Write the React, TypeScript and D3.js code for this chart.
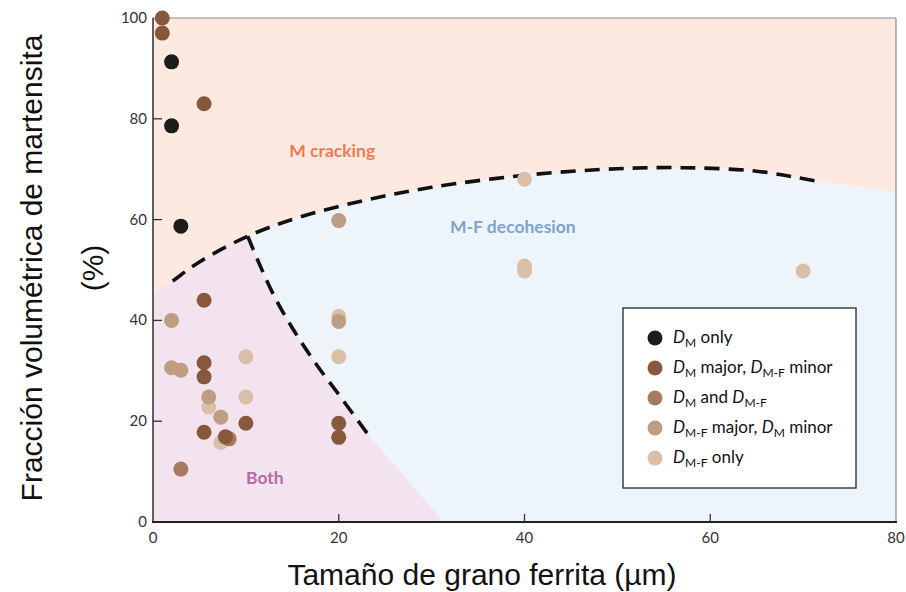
import React from "react";
import * as d3 from "d3";

// ---------- data ----------
const categories = [
  "DM only",
  "DM major, DM-F minor",
  "DM and DM-F",
  "DM-F major, DM minor",
  "DM-F only",
];
const categoryColors = ["#1c1c1c", "#87583b", "#a67b5d", "#bf9d82", "#dabfa8"];

const grainSize = [1, 1, 2, 2, 5.5, 3, 5.5, 2, 2, 3, 5.5, 5.5, 10, 6, 6, 10, 7.3, 7.3, 8.2, 7.8, 10, 5.5, 3, 20, 20, 20, 20, 20, 20, 40, 40, 40, 70];
const martensite = [100, 97, 91.3, 78.6, 83, 58.7, 44, 40, 30.6, 30.1, 31.6, 28.8, 32.8, 22.8, 24.8, 24.8, 20.8, 15.8, 16.5, 16.9, 19.6, 17.8, 10.5, 59.8, 40.8, 39.8, 32.8, 19.6, 16.8, 68, 50.8, 49.8, 49.8];
const pointCategory = [1, 1, 0, 0, 1, 0, 1, 3, 3, 3, 1, 1, 4, 4, 3, 4, 3, 4, 2, 1, 1, 1, 2, 3, 4, 3, 4, 1, 1, 4, 4, 4, 4];

// upper boundary (M cracking / others)
const upperX = [0, 1.8, 5, 10.2, 15.8, 23, 30, 40, 50, 57, 65, 72, 80];
const upperY = [45.2, 47.4, 51.6, 56.7, 60.5, 63.9, 66.4, 68.8, 70.1, 70.3, 69.6, 67.5, 65.5];
const upperDashFrom = 1.8;
const upperDashTo = 72;

// divider (Both / M-F decohesion)
const dividerX = [10.2, 11.5, 13, 15, 17.5, 20.2, 23.1];
const dividerY = [56.7, 51, 45, 38.5, 31.5, 24.8, 17.5];
const dividerFoot = [31.3, 0];

const xTicks = [0, 20, 40, 60, 80];
const yTicks = [0, 20, 40, 60, 80, 100];

const regionLabels = ["M cracking", "M-F decohesion", "Both"];
const regionLabelPos = [[19.3, 72.4], [38.75, 57.3], [12.05, 7.5]];
const regionLabelColors = ["#f07a55", "#7fa3cd", "#b86aa8"];

// ---------- layout ----------
const W = 906;
const H = 592;
const L = 153, R = 896, T = 18, B = 522;

export default function App() {
  const x = d3.scaleLinear().domain([0, 80]).range([L, R]);
  const y = d3.scaleLinear().domain([0, 100]).range([B, T]);

  const upperPts: [number, number][] = upperX.map((v, i) => [x(v), y(upperY[i])]);
  const upperLine = d3.line().curve(d3.curveCatmullRom.alpha(0.5))(upperPts) as string;
  const belowUpper = `M${x(0)},${y(0)}L` + upperLine.slice(1) + `L${x(80)},${y(0)}Z`;

  const divPts: [number, number][] = dividerX.map((v, i) => [x(v), y(dividerY[i])]);
  const divLine = d3.line().curve(d3.curveCatmullRom.alpha(0.5))(divPts) as string;
  const pinkPoly =
    `M${x(0)},${y(0)}L${x(0)},${y(100)}L${x(dividerX[0])},${y(100)}L` +
    divLine.slice(1) +
    `L${x(dividerFoot[0])},${y(dividerFoot[1])}Z`;

  const font = "Lato, 'Open Sans', sans-serif";
  const titleFont = "'Liberation Sans', Arial, sans-serif";

  const S = 12; // subscript size
  const legendLabel = (i: number) => {
    switch (i) {
      case 0:
        return [<tspan key="a" fontStyle="italic">D</tspan>, <tspan key="b" fontSize={S} dy={4}>M</tspan>, <tspan key="c" dy={-4}> only</tspan>];
      case 1:
        return [<tspan key="a" fontStyle="italic">D</tspan>, <tspan key="b" fontSize={S} dy={4}>M</tspan>, <tspan key="c" dy={-4}> major, </tspan>, <tspan key="d" fontStyle="italic">D</tspan>, <tspan key="e" fontSize={S} dy={4}>M-F</tspan>, <tspan key="f" dy={-4}> minor</tspan>];
      case 2:
        return [<tspan key="a" fontStyle="italic">D</tspan>, <tspan key="b" fontSize={S} dy={4}>M</tspan>, <tspan key="c" dy={-4}> and </tspan>, <tspan key="d" fontStyle="italic">D</tspan>, <tspan key="e" fontSize={S} dy={4}>M-F</tspan>];
      case 3:
        return [<tspan key="a" fontStyle="italic">D</tspan>, <tspan key="b" fontSize={S} dy={4}>M-F</tspan>, <tspan key="c" dy={-4}> major, </tspan>, <tspan key="d" fontStyle="italic">D</tspan>, <tspan key="e" fontSize={S} dy={4}>M</tspan>, <tspan key="f" dy={-4}> minor</tspan>];
      default:
        return [<tspan key="a" fontStyle="italic">D</tspan>, <tspan key="b" fontSize={S} dy={4}>M-F</tspan>, <tspan key="c" dy={-4}> only</tspan>];
    }
  };

  return (
    <div style={{ position: "absolute", left: 0, top: 0 }}>
      <svg width={W} height={H} style={{ display: "block", background: "#fff" }}>
        <defs>
          <clipPath id="belowUpper">
            <path d={belowUpper} />
          </clipPath>
          <clipPath id="upperDash">
            <rect x={x(upperDashFrom)} y={0} width={x(upperDashTo) - x(upperDashFrom)} height={H} />
          </clipPath>
        </defs>

        {/* regions */}
        <rect x={L} y={T} width={R - L} height={B - T} fill="#fde9e0" />
        <path d={belowUpper} fill="#edf5fa" />
        <path d={pinkPoly} fill="#f3e3ee" clipPath="url(#belowUpper)" />

        {/* boundaries */}
        <g clipPath="url(#upperDash)">
          <path d={upperLine} fill="none" stroke="#111" strokeWidth={3.6} strokeDasharray="15 9" />
        </g>
        <path d={divLine} fill="none" stroke="#111" strokeWidth={3.6} strokeDasharray="15 9" />

        {/* region labels */}
        {regionLabels.map((t, i) => (
          <text key={t} x={x(regionLabelPos[i][0])} y={y(regionLabelPos[i][1])} textAnchor="middle"
            fontFamily={font} fontWeight={700} fontSize={17.5} fill={regionLabelColors[i]}>{t}</text>
        ))}

        {/* frame */}
        <line x1={L} x2={R} y1={T} y2={T} stroke="#8a8a8a" strokeWidth={1.2} />
        <line x1={R} x2={R} y1={T} y2={B} stroke="#8a8a8a" strokeWidth={1.2} />

        {/* points */}
        {grainSize.map((g, i) => (
          <circle key={i} cx={x(g)} cy={y(martensite[i])} r={7.5} fill={categoryColors[pointCategory[i]]} />
        ))}

        {/* axes */}
        <line x1={L} x2={L} y1={T} y2={B} stroke="#3a3a3a" strokeWidth={1.6} />
        <line x1={L - 1} x2={R + 1} y1={B} y2={B} stroke="#222" strokeWidth={2.2} />
        {xTicks.map((t) => (
          <g key={"x" + t}>
            {t > 0 && t < 80 && <line x1={x(t)} x2={x(t)} y1={B} y2={B - 8} stroke="#333" strokeWidth={1.3} />}
            <text x={x(t)} y={B + 21} textAnchor="middle" fontFamily={font} fontSize={15} fill="#333">{t}</text>
          </g>
        ))}
        {yTicks.map((t) => (
          <g key={"y" + t}>
            {t > 0 && t < 100 && <line x1={L} x2={L + 9} y1={y(t)} y2={y(t)} stroke="#333" strokeWidth={1.3} />}
            <text x={L - 6} y={y(t) + 5} textAnchor="end" fontFamily={font} fontSize={15} fill="#333">{t}</text>
          </g>
        ))}

        {/* axis titles */}
        <text x={482} y={585} textAnchor="middle" fontFamily={titleFont} fontSize={30} fill="#111">
          Tamaño de grano ferrita (µm)
        </text>
        <text transform={`translate(42,268) rotate(-90)`} textAnchor="middle" fontFamily={titleFont} fontSize={30} fill="#111">
          Fracción volumétrica de martensita
        </text>
        <text transform={`translate(103,268) rotate(-90)`} textAnchor="middle" fontFamily={titleFont} fontSize={30} fill="#111">
          (%)
        </text>

        {/* legend */}
        <rect x={623} y={308} width={233} height={180} fill="#fff" stroke="#333" strokeWidth={1.4} />
        {categories.map((c, i) => (
          <g key={c}>
            <circle cx={655} cy={338 + i * 30} r={7.5} fill={categoryColors[i]} />
            <text x={673} y={338 + i * 30 + 5} fontFamily={font} fontSize={17} fill="#111">
              {legendLabel(i)}
            </text>
          </g>
        ))}
      </svg>
    </div>
  );
}
